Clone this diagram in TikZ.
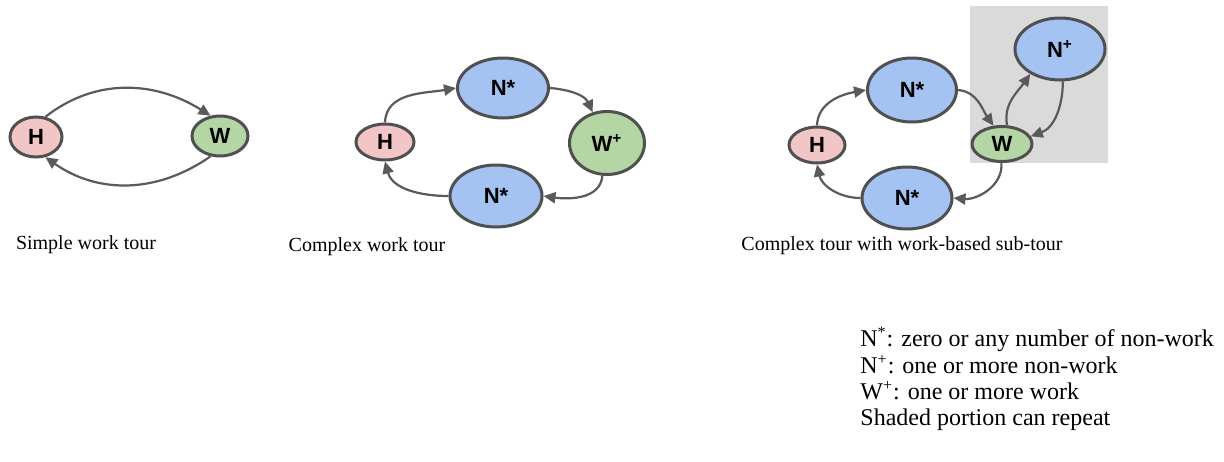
\documentclass[tikz,border=0pt]{standalone}
\usepackage{fontspec}
\setmainfont{Liberation Serif}
\newfontfamily\labfont{Liberation Sans}
\newfontfamily\legfont{Liberation Serif}
\usetikzlibrary{shapes.geometric,arrows.meta}
\definecolor{hfill}{HTML}{F2C6C6}
\definecolor{wfill}{HTML}{B4D6A4}
\definecolor{nfill}{HTML}{A4C2F2}
\definecolor{rim}{HTML}{505050}
\definecolor{conncol}{HTML}{5A5A5A}
\definecolor{greybox}{HTML}{DADADA}
\tikzset{
  st/.style={ellipse, draw=rim, line width=1.5pt, inner sep=0pt,
    font=\labfont\bfseries\fontsize{11}{12}\selectfont},
  hnode/.style={st, fill=hfill},
  wnode/.style={st, fill=wfill},
  nnode/.style={st, fill=nfill},
  conn/.style={draw=conncol, line width=1.1pt, -{Triangle[length=6pt,width=5.5pt]}},
  captext/.style={font=\legfont\fontsize{10}{12}\selectfont, inner sep=0pt},
  legtext/.style={font=\legfont\fontsize{12}{13}\selectfont, inner sep=0pt, anchor=base west}
}
\begin{document}
\begin{tikzpicture}[x=0.5pt,y=-0.5pt]
\useasboundingbox (0,0) rectangle (1224,461);
\fill[white] (0,0) rectangle (1224,461);
% shaded portion
\fill[greybox] (970,6) rectangle (1108,163);
% Diagram 1
\node[hnode, minimum width=26pt, minimum height=20pt] (H1) at (36,137) {H};
\node[wnode, minimum width=28pt, minimum height=20pt] (W1) at (220,136) {W};
\draw[conn] (H1.65) to[out=38,in=148] (W1.115);
\draw[conn] (W1.245) to[out=-145,in=-35] (H1.295);
% Diagram 2
\node[hnode, minimum width=29pt, minimum height=18pt] (H2) at (385,142) {H};
\node[nnode, minimum width=45.5pt, minimum height=30pt] (Na2) at (503,88) {N*};
\node[wnode, minimum width=37.5pt, minimum height=31.5pt] (W2) at (607,143) {W\textsuperscript{+}};
\node[nnode, minimum width=46pt, minimum height=31pt] (Nb2) at (496,196) {N*};
\draw[conn] (H2.north) to[out=88,in=190] (Na2.west);
\draw[conn] (Na2.east) to[out=-5,in=115] (W2.115);
\draw[conn] (W2.262) to[out=-95,in=-8] (Nb2.east);
\draw[conn] (Nb2.west) to[out=180,in=-75] (H2.south);
% Diagram 3
\node[hnode, minimum width=28pt, minimum height=18pt] (H3) at (817,145) {H};
\node[nnode, minimum width=44.5pt, minimum height=32pt] (Na3) at (912,90) {N*};
\node[wnode, minimum width=30pt, minimum height=17.5pt] (W3) at (1002,144) {W};
\node[nnode, minimum width=45pt, minimum height=31pt] (Nb3) at (907,198) {N*};
\node[nnode, minimum width=45pt, minimum height=31pt] (Np3) at (1060,49) {N\textsuperscript{+}};
\draw[conn] (H3.north) to[out=88,in=190] (Na3.west);
\draw[conn] (Na3.east) to[out=-5,in=125] (W3.115);
\draw[conn] (W3.75) to[out=100,in=-125] (Np3.220);
\draw[conn] (Np3.275) to[out=-90,in=20] (W3.15);
\draw[conn] (W3.268) to[out=-85,in=-5] (Nb3.east);
\draw[conn] (Nb3.west) to[out=180,in=-78] (H3.south);
% captions
\node[captext] (c1) at (86,245) {Simple work tour};
\node[captext] (c2) at (367,247) {Complex work tour};
\node[captext] (c3) at (902,246) {Complex tour with work-based sub-tour};
% legend
\node[legtext] (l1) at (860,346) {N\textsuperscript{*}: zero or any number of non-work};
\node[legtext] (l2) at (860,373) {N\textsuperscript{+}: one or more non-work};
\node[legtext] (l3) at (860,399) {W\textsuperscript{+}: one or more work};
\node[legtext] (l4) at (860,425) {Shaded portion can repeat};
\end{tikzpicture}
\end{document}
